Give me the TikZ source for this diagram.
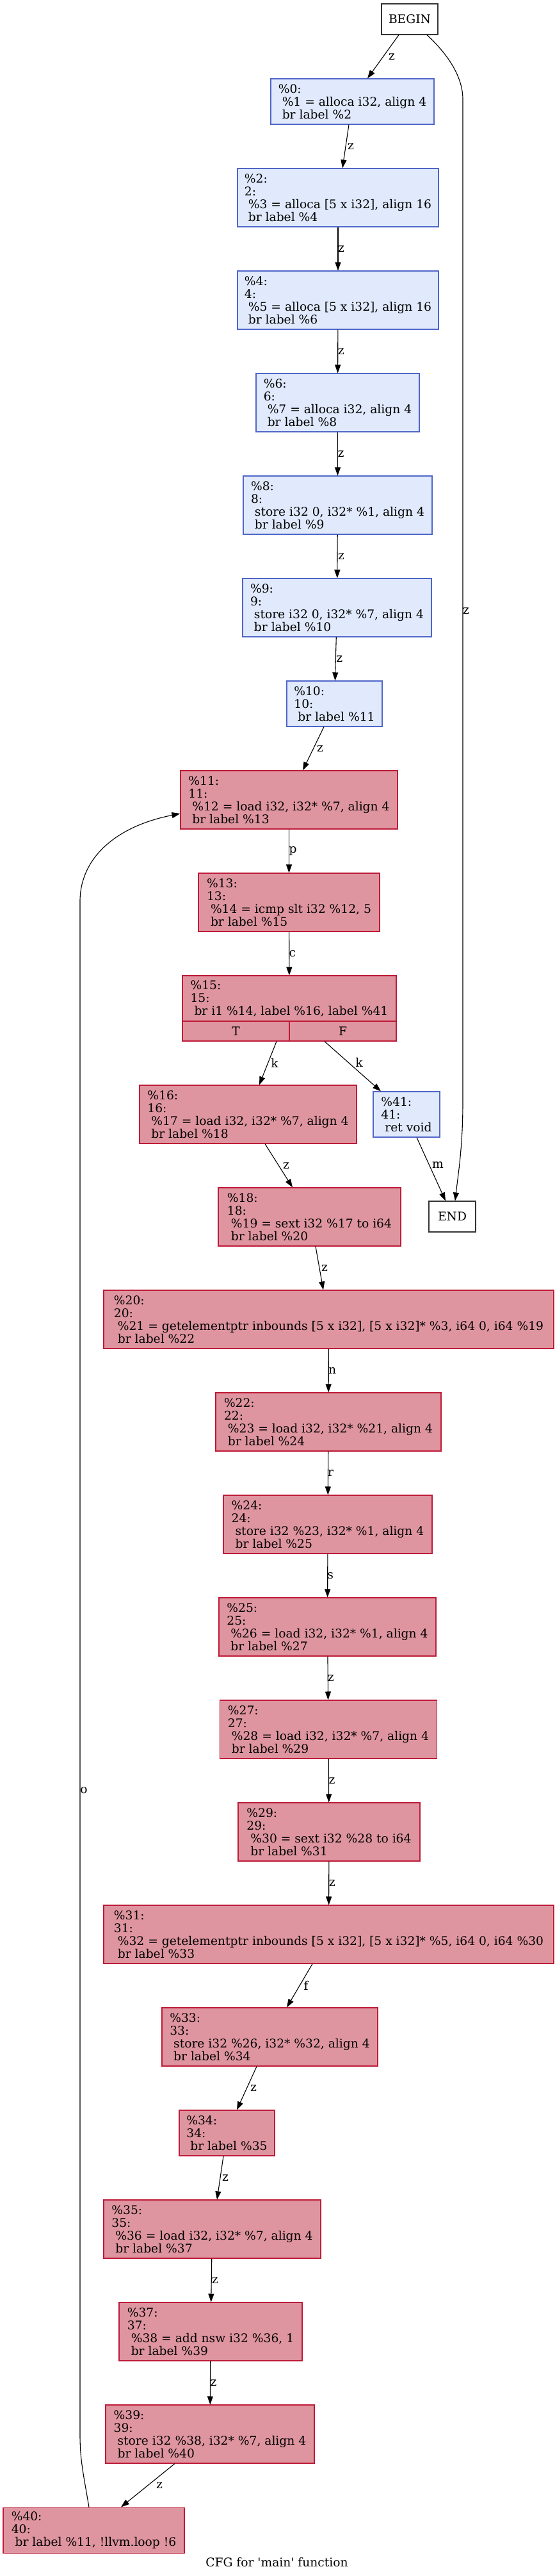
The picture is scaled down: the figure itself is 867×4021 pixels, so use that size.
\documentclass[tikz,border=0pt]{standalone}
\usepackage{fontspec}
\usepackage{tikz}
\usetikzlibrary{arrows.meta}
\newfontfamily\cfgfont{DejaVu Serif}
\newcommand{\cfgtext}{\cfgfont\fontsize{18.67pt}{20pt}\selectfont}
\definecolor{blkfill}{HTML}{E0EAFC}
\definecolor{blkdraw}{HTML}{5066C8}
\definecolor{hotfill}{HTML}{DF95A0}
\definecolor{hotdraw}{HTML}{BE1A38}

\begin{document}
\begin{tikzpicture}[x=1pt, y=-1pt]
	\tikzset{blk/.style = {shape=rectangle, draw=blkdraw, fill=blkfill, line width=1.1pt,
			inner sep=0pt, align=left, font=\cfgtext}}
	\tikzset{hot/.style = {blk, draw=hotdraw, fill=hotfill}}
	\tikzset{term/.style = {shape=rectangle, draw=black!80, fill=white, line width=1.1pt,
			inner sep=0pt, font=\cfgtext}}
	\tikzset{dims/.style 2 args = {minimum width=#1pt, minimum height=#2pt}}
	\tikzset{edge/.style = {-{Triangle[length=13pt, width=9pt]}, line width=1.1pt}}
	\tikzset{lbl/.style = {midway, inner sep=0pt, font=\cfgtext}}

	\useasboundingbox (0,0) rectangle (867,4021);

	% vertices
	\node[term, dims={88}{48}] (entry) at (640,30) {BEGIN};
	\node[blk, dims={255}{71}] (b0) at (550.5,158.5) {\%0:\\\ \%1 = alloca i32, align 4\\\ br label \%2};
	\node[blk, dims={314}{91}] (b2) at (528,308.5) {\%2:\\2:\\\ \%3 = alloca [5 x i32], align 16\\\ br label \%4};
	\node[blk, dims={314}{91}] (b4) at (528,468.5) {\%4:\\4:\\\ \%5 = alloca [5 x i32], align 16\\\ br label \%6};
	\node[blk, dims={255}{91}] (b6) at (527.5,628.5) {\%6:\\6:\\\ \%7 = alloca i32, align 4\\\ br label \%8};
	\node[blk, dims={295}{91}] (b8) at (527.5,788.5) {\%8:\\8:\\\ store i32 0, i32* \%1, align 4\\\ br label \%9};
	\node[blk, dims={295}{91}] (b9) at (526.5,948.5) {\%9:\\9:\\\ store i32 0, i32* \%7, align 4\\\ br label \%10};
	\node[blk, dims={149}{71}] (b10) at (522.5,1098.5) {\%10:\\10:\\\ br label \%11};
	\node[hot, dims={339}{91}] (b11) at (451.5,1248.5) {\%11:\\11:\\\ \%12 = load i32, i32* \%7, align 4\\\ br label \%13};
	\node[hot, dims={283}{91}] (b13) at (451.5,1408.5) {\%13:\\13:\\\ \%14 = icmp slt i32 \%12, 5\\\ br label \%15};
	\node[hot, dims={334}{71}] (b15) at (452,1558.5) {\%15:\\15:\\\ br i1 \%14, label \%16, label \%41};
	\node[hot, dims={167}{31}] (tcell) at (368.5,1609.5) {T};
	\node[hot, dims={167}{31}] (fcell) at (535.5,1609.5) {F};
	\node[hot, dims={339}{91}] (b16) at (387.5,1739.5) {\%16:\\16:\\\ \%17 = load i32, i32* \%7, align 4\\\ br label \%18};
	\node[blk, dims={104}{71}] (b41) at (635,1739.5) {\%41:\\41:\\\ ret void};
	\node[term, dims={73}{48}] (exit) at (706.5,1899) {END};
	\node[hot, dims={285}{91}] (b18) at (483.5,1899.5) {\%18:\\18:\\\ \%19 = sext i32 \%17 to i64\\\ br label \%20};
	\node[hot, dims={703}{91}] (b20) at (513.5,2059.5) {\%20:\\20:\\\ \%21 = getelementptr inbounds [5 x i32], [5 x i32]* \%3, i64 0, i64 \%19\\\ br label \%22};
	\node[hot, dims={352}{91}] (b22) at (513,2219.5) {\%22:\\22:\\\ \%23 = load i32, i32* \%21, align 4\\\ br label \%24};
	\node[hot, dims={326}{91}] (b24) at (512,2379.5) {\%24:\\24:\\\ store i32 \%23, i32* \%1, align 4\\\ br label \%25};
	\node[hot, dims={339}{91}] (b25) at (511.5,2539.5) {\%25:\\25:\\\ \%26 = load i32, i32* \%1, align 4\\\ br label \%27};
	\node[hot, dims={339}{91}] (b27) at (513,2699.5) {\%27:\\27:\\\ \%28 = load i32, i32* \%7, align 4\\\ br label \%29};
	\node[hot, dims={284}{91}] (b29) at (514,2859.5) {\%29:\\29:\\\ \%30 = sext i32 \%28 to i64\\\ br label \%31};
	\node[hot, dims={703}{91}] (b31) at (513.5,3019.5) {\%31:\\31:\\\ \%32 = getelementptr inbounds [5 x i32], [5 x i32]* \%5, i64 0, i64 \%30\\\ br label \%33};
	\node[hot, dims={337}{91}] (b33) at (421.5,3179.5) {\%33:\\33:\\\ store i32 \%26, i32* \%32, align 4\\\ br label \%34};
	\node[hot, dims={149}{71}] (b34) at (354.5,3329.5) {\%34:\\34:\\\ br label \%35};
	\node[hot, dims={339}{91}] (b35) at (331.5,3479.5) {\%35:\\35:\\\ \%36 = load i32, i32* \%7, align 4\\\ br label \%37};
	\node[hot, dims={286}{91}] (b37) at (329,3639.5) {\%37:\\37:\\\ \%38 = add nsw i32 \%36, 1\\\ br label \%39};
	\node[hot, dims={326}{91}] (b39) at (328,3799.5) {\%39:\\39:\\\ store i32 \%38, i32* \%7, align 4\\\ br label \%40};
	\node[hot, dims={283}{71}] (b40) at (146.5,3949.5) {\%40:\\40:\\\ br label \%11, !llvm.loop !6};

	\node[font=\cfgtext, inner sep=0pt, anchor=base] (title) at (432.5,4006) {CFG for \textquotesingle main\textquotesingle{} function};

	%edges
	\draw[edge] ([xshift=-17pt]entry.south) -- node[lbl, xshift=13.5pt] {z} ([xshift=23.5pt]b0.north);
	\draw[edge] ([xshift=-5.5pt]b0.south) -- node[lbl, xshift=8pt] {z} ([xshift=7pt]b2.north);
	\draw[edge] (b2) -- node[lbl, xshift=5pt] {z} (b4);
	\draw[edge] (b4) -- node[lbl, xshift=5pt] {z} (b6);
	\draw[edge] (b6) -- node[lbl, xshift=5pt] {z} (b8);
	\draw[edge] (b8) -- node[lbl, xshift=6pt] {z} (b9);
	\draw[edge] (b9) -- node[lbl, xshift=6pt] {z} (b10);
	\draw[edge] ([xshift=-16.5pt]b10.south) -- node[lbl, xshift=10.5pt] {z} ([xshift=21.5pt]b11.north);
	\draw[edge] (b11) -- node[lbl, xshift=6pt] {p} (b13);
	\draw[edge] (b13) -- node[lbl, xshift=5pt] {c} (b15);
	\draw[edge] ([xshift=63.5pt]tcell.south) -- node[lbl, xshift=10.5pt] {k} ([xshift=17.5pt]b16.north);
	\draw[edge] ([xshift=-28.5pt]fcell.south) -- node[lbl, xshift=10pt, yshift=6.5pt] {k} ([xshift=-40pt]b41.north);
	\draw[edge] ([xshift=16pt]b41.south) -- node[lbl, xshift=10.5pt, yshift=7pt] {m} ([xshift=-10.5pt]exit.north);
	\draw[edge] ([xshift=27pt]entry.south) .. controls (700,85) and (723,120) .. (723,155)
		-- node[lbl, pos=0.51, xshift=5pt] {z} (723,1720) .. controls (723,1790) and (716,1830) .. ([xshift=4.5pt]exit.north);
	\draw[edge] ([xshift=26.5pt]b16.south) -- node[lbl, xshift=11.5pt] {z} ([xshift=-26.5pt]b18.north);
	\draw[edge] ([xshift=9.5pt]b18.south) -- node[lbl, xshift=8pt] {z} ([xshift=-8.5pt]b20.north);
	\draw[edge] (b20) -- node[lbl, xshift=6pt] {n} (b22);
	\draw[edge] (b22) -- node[lbl, xshift=4pt] {r} (b24);
	\draw[edge] (b24) -- node[lbl, xshift=4.5pt] {s} (b25);
	\draw[edge] (b25) -- node[lbl, xshift=4.5pt] {z} (b27);
	\draw[edge] (b27) -- node[lbl, xshift=5pt] {z} (b29);
	\draw[edge] (b29) -- node[lbl, xshift=5pt] {z} (b31);
	\draw[edge] ([xshift=-25.5pt]b31.south) -- node[lbl, xshift=10pt] {f} ([xshift=26.5pt]b33.north);
	\draw[edge] ([xshift=-20.5pt]b33.south) -- node[lbl, xshift=10.5pt] {z} ([xshift=15.5pt]b34.north);
	\draw[edge] ([xshift=-5.5pt]b34.south) -- node[lbl, xshift=8pt] {z} ([xshift=7.5pt]b35.north);
	\draw[edge] (b35) -- node[lbl, xshift=5.5pt] {z} (b37);
	\draw[edge] (b37) -- node[lbl, xshift=5pt] {z} (b39);
	\draw[edge] ([xshift=-55pt]b39.south) -- node[lbl, xshift=18pt] {z} ([xshift=42.5pt]b40.north);
	\draw[edge] ([xshift=-7.5pt]b40.north) .. controls (130,3860) and (125,3840) .. (125,3800)
		-- node[lbl, pos=0.42, xshift=6pt] {o} (125,1407) .. controls (125,1340) and (180,1290) .. ([yshift=-21.5pt]b11.west);
\end{tikzpicture}
\end{document}
